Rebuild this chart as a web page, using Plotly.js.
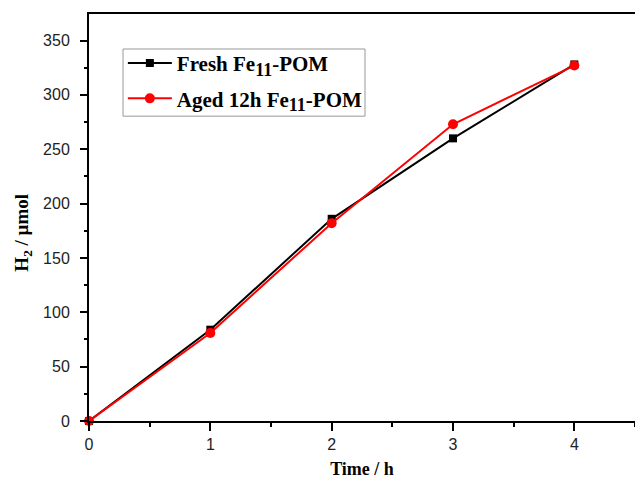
<!DOCTYPE html>
<html>
<head>
<meta charset="utf-8">
<script src="https://cdn.plot.ly/plotly-3.0.1.min.js"></script>
<style>
  html, body { margin: 0; padding: 0; background: #fff; }
  #chart { width: 635px; height: 479px; }
</style>
</head>
<body>
<div id="chart"></div>
<script>
// Reaction time in hours
const timeH = [0, 1, 2, 3, 4];
// Hydrogen evolved (µmol) for each catalyst sample
const freshH2 = [0, 84, 186, 260, 328];
const agedH2 = [0, 81, 182, 273, 327];
const sub11 = '<sub><span style="font-size:18px">11</span></sub>';
const seriesNames = ['Fresh Fe' + sub11 + '-POM', 'Aged 12h Fe' + sub11 + '-POM'];
const xTicks = [0, 1, 2, 3, 4];
const yTicks = [0, 50, 100, 150, 200, 250, 300, 350];
const yRange = [0, 374.4];

const serif = 'Liberation Serif, Times New Roman, serif';
const sans = 'Liberation Sans, Arial, sans-serif';

const traces = [
  {
    x: timeH, y: freshH2, name: seriesNames[0], legendgroup: 'a',
    type: 'scatter', mode: 'lines+markers',
    line: { color: '#000000', width: 2 },
    marker: { symbol: 'square', size: 8, color: '#000000' },
    cliponaxis: false
  },
  {
    x: timeH, y: agedH2, name: seriesNames[1], legendgroup: 'b',
    type: 'scatter', mode: 'lines+markers', yaxis: 'y2',
    line: { color: '#ff0000', width: 2 },
    marker: { symbol: 'circle', size: 10, color: '#ff0000' },
    cliponaxis: false
  }
];

const tickFont = { family: sans, size: 16, color: '#222' };

const layout = {
  width: 635, height: 479,
  margin: { l: 89, r: 0, t: 14, b: 58 },
  paper_bgcolor: '#fff', plot_bgcolor: '#fff',
  xaxis: {
    range: [0, 4.5], tickvals: xTicks, ticktext: xTicks.map(String),
    showgrid: false, zeroline: false,
    showline: true, linecolor: '#000', linewidth: 2, mirror: true,
    ticks: 'outside', ticklen: 8, tickwidth: 2, tickcolor: '#000',
    minor: { ticks: 'outside', ticklen: 4, tickwidth: 2, tickcolor: '#000', dtick: 0.5, tick0: 0 },
    tickfont: tickFont,
    title: { text: '<b>Time / h</b>', font: { family: serif, size: 18, color: '#000' }, standoff: 10 }
  },
  // left axis: line and labels; its long transparent ticks push the labels off the axis
  yaxis: {
    range: yRange, tickvals: yTicks, ticktext: yTicks.map(String),
    showgrid: false, zeroline: false,
    showline: true, linecolor: '#000', linewidth: 2,
    ticks: 'outside', ticklen: 14, tickwidth: 2, tickcolor: 'rgba(0,0,0,0)',
    tickfont: tickFont
  },
  // overlaid twin axis carrying the visible major and minor ticks
  yaxis2: {
    range: yRange, tickvals: yTicks, overlaying: 'y', side: 'left', anchor: 'x',
    showgrid: false, zeroline: false, showline: false, showticklabels: false,
    ticks: 'outside', ticklen: 8, tickwidth: 2, tickcolor: '#000',
    minor: { ticks: 'outside', ticklen: 4, tickwidth: 2, tickcolor: '#000', dtick: 25, tick0: 0 }
  },
  annotations: [{
    text: '<b>H<sub>2</sub> / µmol</b>',
    xref: 'paper', yref: 'paper', x: -0.12, y: 0.464,
    xanchor: 'center', yanchor: 'middle', textangle: -90, showarrow: false,
    font: { family: serif, size: 19, color: '#000' }
  }],
  // legend frame
  shapes: [{
    type: 'rect', xref: 'paper', yref: 'paper', layer: 'above',
    x0: 0.0623, x1: 0.5055, y0: 0.749, y1: 0.914,
    line: { color: '#999', width: 1 }, fillcolor: '#fff'
  }],
  showlegend: true,
  legend: {
    x: 0.062, y: 0.929, xanchor: 'left', yanchor: 'top',
    bgcolor: 'rgba(0,0,0,0)', borderwidth: 0,
    font: { family: serif, size: 21, color: '#000', weight: 'bold' },
    itemwidth: 44, traceorder: 'grouped', tracegroupgap: 5
  }
};

Plotly.newPlot('chart', traces, layout, { displayModeBar: false, staticPlot: true });
</script>
</body>
</html>
